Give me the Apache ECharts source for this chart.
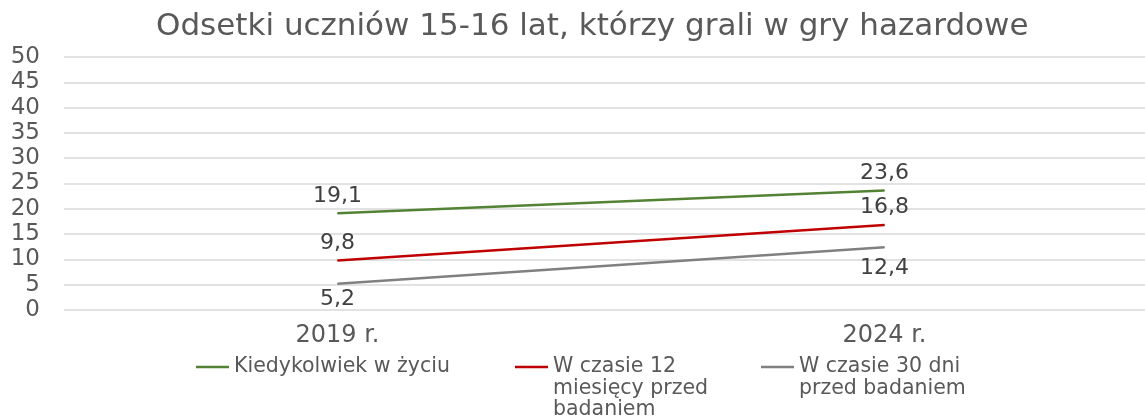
<!DOCTYPE html>
<html>
<head>
<meta charset="utf-8">
<script src="https://cdn.jsdelivr.net/npm/echarts@6/dist/echarts.min.js"></script>
<style>
  html, body { margin: 0; padding: 0; background: #fff; }
  #chart { width: 1145px; height: 416px; }
</style>
</head>
<body>
<div id="chart"></div>
<script>
var years = ['2019 r.', '2024 r.'];
var everValues = [19.1, 23.6];
var months12Values = [9.8, 16.8];
var days30Values = [5.2, 12.4];
var seriesNames = ['Kiedykolwiek w życiu', 'W czasie 12 miesięcy przed badaniem', 'W czasie 30 dni przed badaniem'];
// leading blank lines keep the icon next to the first text line
var legendLabels = ['Kiedykolwiek w życiu', '\n\nW czasie 12\nmiesięcy przed\nbadaniem', '\nW czasie 30 dni\nprzed badaniem'];

var FONT = 'DejaVu Sans';
var LEGEND_LH = 21.5;
var chart = echarts.init(document.getElementById('chart'));

function commaLabel(p) {
    return String(p.value).replace('.', ',');
}

function makeSeries(name, values, color, labelPos, distances) {
    var data = [];
    for (var i = 0; i < values.length; i++) {
        data.push({ value: values[i], label: { distance: distances[i] } });
    }
    return {
        name: name,
        type: 'line',
        data: data,
        symbol: 'circle',
        symbolSize: 1,
        lineStyle: { color: color, width: 2.5 },
        itemStyle: { color: color },
        label: {
            show: true,
            position: labelPos,
            formatter: commaLabel,
            fontFamily: FONT,
            fontSize: 22,
            color: '#404040'
        }
    };
}

function makeLegend(i, left, lines) {
    return {
        data: [seriesNames[i]],
        left: left,
        top: 367 - lines * LEGEND_LH / 2,
        padding: 0,
        icon: 'rect',
        itemWidth: 33,
        itemHeight: 2.5,
        formatter: function () { return legendLabels[i]; },
        textStyle: {
            fontFamily: FONT,
            fontSize: 20.5,
            color: '#595959',
            lineHeight: LEGEND_LH
        }
    };
}

var option = {
    animation: false,
    backgroundColor: '#fff',
    title: {
        text: 'Odsetki uczniów 15-16 lat, którzy grali w gry hazardowe',
        left: 151,
        top: 6,
        textStyle: {
            fontFamily: FONT,
            fontSize: 31,
            fontWeight: 'normal',
            color: '#595959'
        }
    },
    legend: [
        makeLegend(0, 196, 1),
        makeLegend(1, 515, 5),
        makeLegend(2, 761, 3)
    ],
    grid: {
        left: 64,
        top: 57,
        width: 1094,
        bottom: 106,
        outerBoundsMode: 'none'
    },
    xAxis: {
        type: 'category',
        data: years,
        boundaryGap: true,
        axisLine: { show: false },
        axisTick: { show: false },
        axisLabel: {
            fontFamily: FONT,
            fontSize: 24,
            color: '#595959',
            margin: 14
        }
    },
    yAxis: {
        type: 'value',
        min: 0,
        max: 50,
        interval: 5,
        axisLine: { show: false },
        axisTick: { show: false },
        splitLine: { lineStyle: { color: '#d9d9d9', width: 1.5 } },
        axisLabel: {
            fontFamily: FONT,
            fontSize: 23,
            color: '#595959',
            margin: 24
        }
    },
    series: [
        makeSeries(seriesNames[0], everValues, '#548235', 'top', [6, 6]),
        makeSeries(seriesNames[1], months12Values, '#c00000', 'top', [6, 6]),
        makeSeries(seriesNames[2], days30Values, '#808080', 'bottom', [4, 10])
    ]
};

chart.setOption(option);
</script>
</body>
</html>
